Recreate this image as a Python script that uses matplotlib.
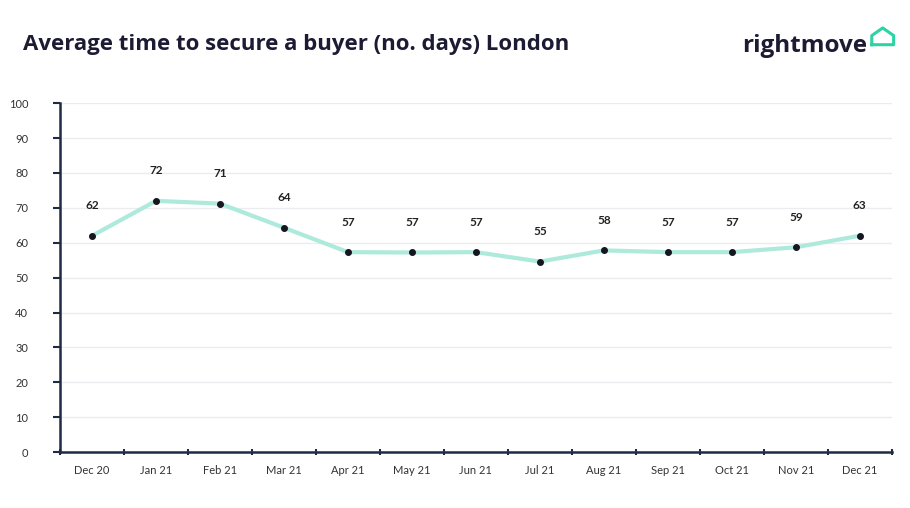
import numpy as np
import matplotlib.pyplot as plt
from matplotlib.lines import Line2D

# Dados: meses, valor plotado e rótulo exibido
months = ['Dec 20', 'Jan 21', 'Feb 21', 'Mar 21', 'Apr 21', 'May 21', 'Jun 21',
          'Jul 21', 'Aug 21', 'Sep 21', 'Oct 21', 'Nov 21', 'Dec 21']
days = [62.0, 72.0, 71.2, 64.3, 57.3, 57.2, 57.3, 54.6, 57.8, 57.3, 57.3, 58.7, 62.0]
labels = [62, 72, 71, 64, 57, 57, 57, 55, 58, 57, 57, 59, 63]

navy = '#1f2a44'
mint = '#aeeadb'

plt.rcParams['font.family'] = ['Lato', 'DejaVu Sans']

fig = plt.figure(figsize=(9.1, 5.08), dpi=100)
ax = fig.add_axes([0.066, 0.110, 0.914, 0.687])

x = np.arange(len(months))
ax.plot(x, days, color=mint, lw=3, zorder=2)
ax.scatter(x, days, color='#15161f', s=16, zorder=3)
for xi, yi, lab in zip(x, days, labels):
    ax.text(xi, yi + 8.6, str(lab), ha='center', va='center', fontsize=8.5,
            fontweight='bold', color='#222222')

ax.set_xlim(-0.5, len(months) - 0.5)
ax.set_ylim(0, 100)
ax.set_yticks(range(0, 101, 10))
ax.set_xticks(x)
ax.set_xticklabels(months)
ax.set_xticks(np.arange(-0.5, len(months), 1), minor=True)
ax.tick_params(axis='x', which='major', length=0, pad=9, labelsize=8, labelcolor='#333333')
ax.tick_params(axis='x', which='minor', length=5, width=1.5, color=navy, direction='inout')
ax.tick_params(axis='y', length=5, width=1.5, color=navy, pad=18, labelsize=8, labelcolor='#333333')
for t in ax.get_yticklabels():
    t.set_horizontalalignment('right')

ax.grid(axis='y', color='#ececf0', lw=1)
ax.set_axisbelow(True)
for s in ['top', 'right']:
    ax.spines[s].set_visible(False)
for s in ['left', 'bottom']:
    ax.spines[s].set_color(navy)
    ax.spines[s].set_linewidth(1.8)

fig.text(0.025, 0.913, 'Average time to secure a buyer (no. days) London', fontsize=16,
         fontweight='bold', family=['Open Sans', 'DejaVu Sans'], color='#1d1b33',
         va='center', ha='left')
fig.text(0.953, 0.910, 'rightmove', fontsize=17.5, fontweight='bold',
         family=['Open Sans', 'DejaVu Sans'], color='#1d1b33', va='center', ha='right')
# casinha do logo
hx, hy = [0.958, 0.958, 0.970, 0.982, 0.982, 0.958], [0.912, 0.930, 0.945, 0.930, 0.912, 0.912]
fig.add_artist(Line2D(hx, hy, transform=fig.transFigure, color='#2ed3a5', lw=2.2,
                      solid_joinstyle='round'))

fig.savefig('out.png', dpi=100, facecolor='white')
